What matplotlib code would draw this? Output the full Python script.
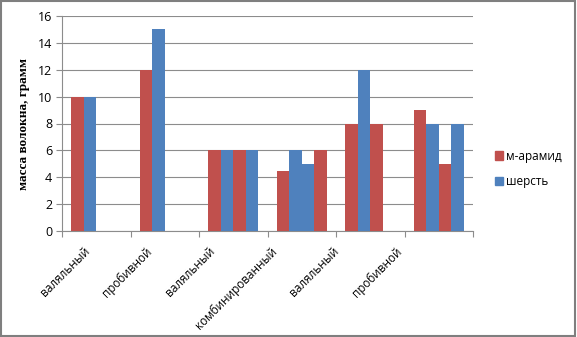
import numpy as np
import matplotlib.pyplot as plt
from matplotlib.patches import Rectangle, Patch

categories = ["валяльный", "пробивной", "валяльный", "комбинированный", "валяльный", "пробивной"]
bar1 = [10, 12, 6, 4.5, 8, 9]
bar2 = [10, 15, 6, 6, 12, 8]
bar3 = [0, 0, 6, 5, 8, 5]
bar4 = [0, 0, 6, 6, 0, 8]

red = "#C0504D"
blue = "#4F81BD"
# colour of each bar slot in each group
colors = [
    [red, blue, red, blue],
    [red, blue, red, blue],
    [red, blue, red, blue],
    [red, blue, blue, red],
    [red, blue, red, blue],
    [red, blue, red, blue],
]

fig = plt.figure(figsize=(5.77, 3.37), dpi=100)
ax = fig.add_axes([62/577, 1 - 231/337, 411/577, 215/337])

x = np.arange(len(categories))
w = 1 / 5.5
series = [bar1, bar2, bar3, bar4]
for k, vals in enumerate(series):
    pos = x - 1.5*w + k*w
    ax.bar(pos, vals, width=w, color=[colors[i][k] for i in range(len(categories))], zorder=3)

ax.set_xlim(-0.5, len(categories) - 0.5)
ax.set_ylim(0, 16)
ax.set_yticks(np.arange(0, 17, 2))
ax.yaxis.grid(True, color="#8c8c8c", linewidth=0.8, zorder=0)
ax.set_xticks(np.arange(-0.5, len(categories)), minor=False)
ax.set_xticklabels([])
# Excel packs the rotated labels slightly tighter than the categories
label_pos = -0.5 + 0.31 + x * 0.91
ax.set_xticks(label_pos, minor=True)
ax.set_xticklabels(categories, minor=True, rotation=45, ha="right", va="top",
                   rotation_mode="anchor", fontsize=8.5, family="Open Sans")
ax.tick_params(axis="x", which="minor", length=0, pad=10)
ax.tick_params(axis="x", which="major", length=4, color="#8c8c8c", direction="out")
ax.tick_params(axis="y", length=4, color="#8c8c8c", labelsize=9, pad=3)
for lab in ax.get_yticklabels():
    lab.set_family("Open Sans")
for s in ["top", "right"]:
    ax.spines[s].set_visible(False)
ax.spines["left"].set_color("#8c8c8c")
ax.spines["bottom"].set_color("#8c8c8c")

ax.set_ylabel("масса волокна, грамм", family="Liberation Serif", fontweight="bold",
              fontsize=9.5, labelpad=6)

handles = [Patch(color=red, label="м-арамид"), Patch(color=blue, label="шерсть")]
fig.legend(handles=handles, loc="center left", bbox_to_anchor=(484/577, 1 - 169/337),
           frameon=False, prop={"family": "Open Sans", "size": 8.5},
           handlelength=0.7, handleheight=0.7, handletextpad=0.3, labelspacing=1.1)

fig.patches.append(Rectangle((0.002, 0.003), 0.995, 0.994, transform=fig.transFigure,
                             fill=False, edgecolor="#7f7f7f", linewidth=1.5))

fig.savefig("out.png", dpi=100)
